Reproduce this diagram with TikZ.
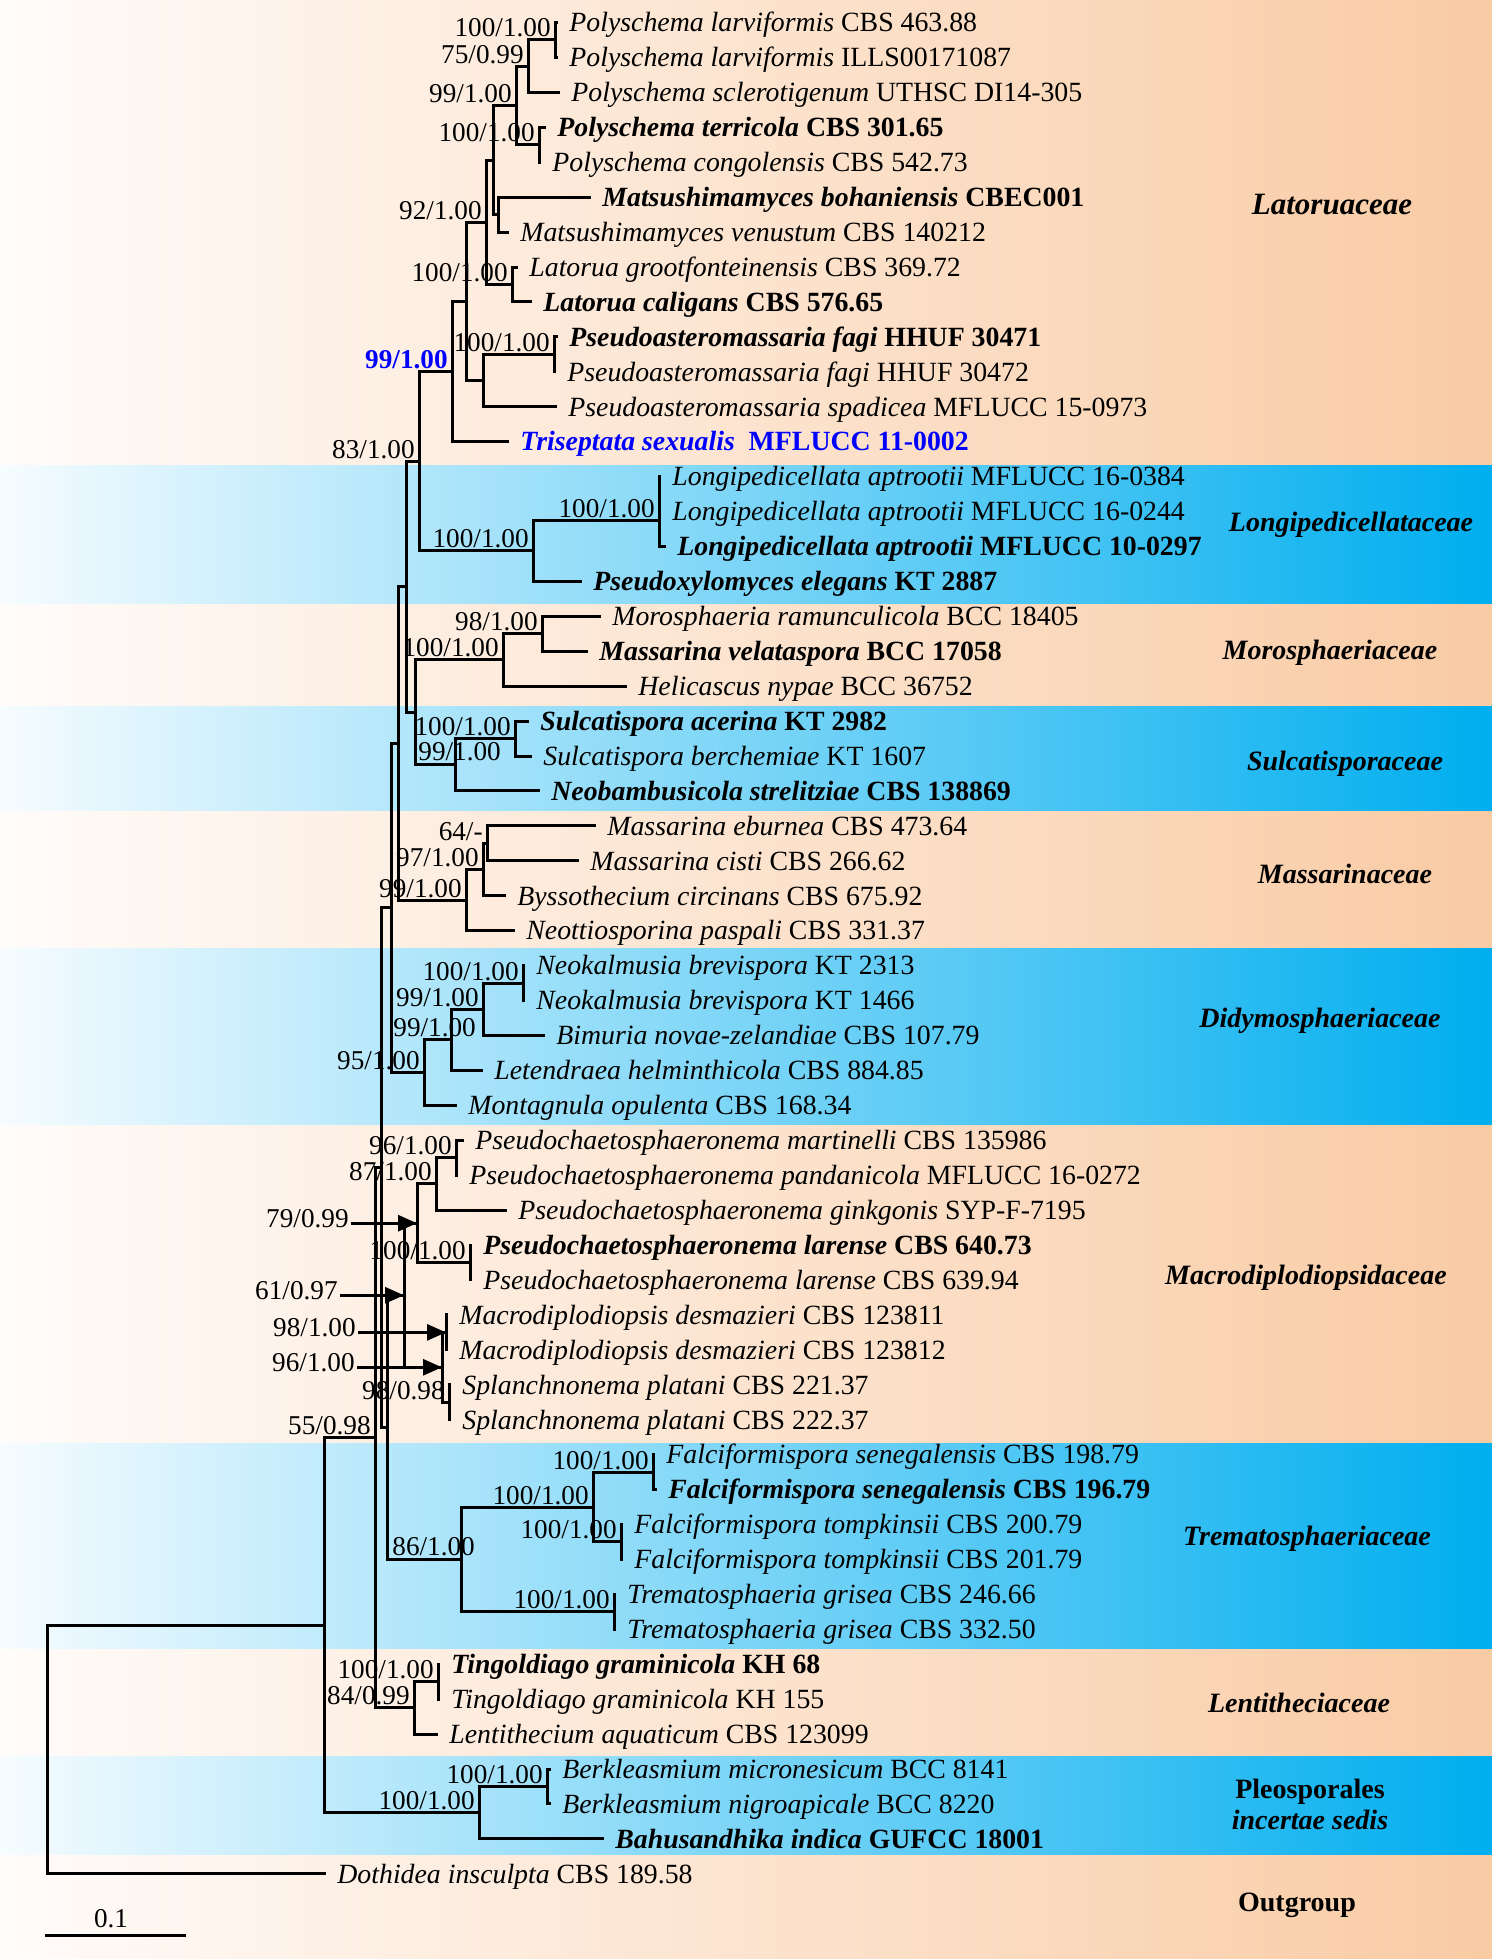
\documentclass[tikz,border=0pt]{standalone}
\usepackage{fontspec}
\setmainfont{Liberation Serif}
\usepackage{tikz}
\usetikzlibrary{arrows.meta}
\definecolor{bandPeach}{HTML}{F9CBA4}
\definecolor{bandPeachPale}{HTML}{FFFCFA}
\definecolor{bandCyan}{HTML}{00AEEF}
\definecolor{bandCyanPale}{HTML}{F6FCFF}
\definecolor{treeInk}{HTML}{000000}
\definecolor{typeBlue}{HTML}{0000FF}
\tikzset{
  taxon/.style={
    anchor=west,
    inner xsep=6.5pt,
    inner ysep=0pt,
    text height=9.3pt,
    text depth=0pt,
    font=\fontsize{13.9}{16}\selectfont
  },
  taxonBold/.style={
    taxon,
    font=\fontsize{13.9}{16}\selectfont\bfseries
  },
  support/.style={
    anchor=base east,
    inner sep=0pt,
    xshift=-2pt,
    yshift=1.5pt,
    font=\fontsize{13.6}{16}\selectfont
  },
  supportLeft/.style={
    anchor=base west,
    inner sep=0pt,
    font=\fontsize{13.6}{16}\selectfont
  },
  pointerLabel/.style={
    anchor=base east,
    inner xsep=1pt,
    inner ysep=0pt,
    yshift=-2pt,
    font=\fontsize{13.6}{16}\selectfont
  },
  scaleLabel/.style={
    anchor=base,
    inner sep=0pt,
    font=\fontsize{13.6}{16}\selectfont
  },
  branch/.style={
    line width=1.5pt,
    line cap=rect,
    draw=treeInk
  },
  pointer/.style={
    -{Triangle[length=9.5pt,width=8pt]},
    line width=1.5pt,
    draw=treeInk
  },
  family/.style={
    anchor=base,
    font=\fontsize{14}{16}\selectfont\bfseries\itshape
  },
  peachBand/.style={left color=bandPeachPale, right color=bandPeach},
  cyanBand/.style={left color=bandCyanPale, right color=bandCyan}
}

\begin{document}
\begin{tikzpicture}[x=0.5pt, y=-17.465pt]
  \useasboundingbox (0,0.356) rectangle (1492,56.44);
  % family bands
  \shade[peachBand] (0,0.356) rectangle (1492,13.67);
  \shade[cyanBand] (0,13.67) rectangle (1492,17.65);
  \shade[peachBand] (0,17.65) rectangle (1492,20.57);
  \shade[cyanBand] (0,20.57) rectangle (1492,23.60);
  \shade[peachBand] (0,23.60) rectangle (1492,27.50);
  \shade[cyanBand] (0,27.50) rectangle (1492,32.59);
  \shade[peachBand] (0,32.59) rectangle (1492,41.67);
  \shade[cyanBand] (0,41.67) rectangle (1492,47.59);
  \shade[peachBand] (0,47.59) rectangle (1492,50.63);
  \shade[cyanBand] (0,50.63) rectangle (1492,53.49);
  \shade[peachBand] (0,53.49) rectangle (1492,56.44);

  % taxa
  \node[taxon] (polLarA) at (556,1) {\textit{Polyschema larviformis} CBS 463.88};
  \node[taxon] (polLarB) at (556,2) {\textit{Polyschema larviformis} ILLS00171087};
  \node[taxon] (polScl) at (558,3) {\textit{Polyschema sclerotigenum} UTHSC DI14-305};
  \node[taxonBold] (polTer) at (544,4) {\textit{Polyschema terricola} CBS 301.65};
  \node[taxon] (polCon) at (539,5) {\textit{Polyschema congolensis} CBS 542.73};
  \node[taxonBold] (matBoh) at (589,6) {\textit{Matsushimamyces bohaniensis} CBEC001};
  \node[taxon] (matVen) at (507,7) {\textit{Matsushimamyces venustum} CBS 140212};
  \node[taxon] (latGro) at (516,8) {\textit{Latorua grootfonteinensis} CBS 369.72};
  \node[taxonBold] (latCal) at (530,9) {\textit{Latorua caligans} CBS 576.65};
  \node[taxonBold] (psaFagA) at (556,10) {\textit{Pseudoasteromassaria fagi} HHUF 30471};
  \node[taxon] (psaFagB) at (554,11) {\textit{Pseudoasteromassaria fagi} HHUF 30472};
  \node[taxon] (psaSpa) at (555,12) {\textit{Pseudoasteromassaria spadicea} MFLUCC 15-0973};
  \node[taxonBold, text=typeBlue] (triSex) at (507,13) {\textit{Triseptata sexualis}\ \ MFLUCC 11-0002};
  \node[taxon] (lonAptA) at (659,14) {\textit{Longipedicellata aptrootii} MFLUCC 16-0384};
  \node[taxon] (lonAptB) at (659,15) {\textit{Longipedicellata aptrootii} MFLUCC 16-0244};
  \node[taxonBold] (lonAptC) at (664,16) {\textit{Longipedicellata aptrootii} MFLUCC 10-0297};
  \node[taxonBold] (pxyEle) at (580,17) {\textit{Pseudoxylomyces elegans} KT 2887};
  \node[taxon] (morRam) at (599,18) {\textit{Morosphaeria ramunculicola} BCC 18405};
  \node[taxonBold] (masVel) at (586,19) {\textit{Massarina velataspora} BCC 17058};
  \node[taxon] (helNyp) at (625,20) {\textit{Helicascus nypae} BCC 36752};
  \node[taxonBold] (sulAce) at (527,21) {\textit{Sulcatispora acerina} KT 2982};
  \node[taxon] (sulBer) at (530,22) {\textit{Sulcatispora berchemiae} KT 1607};
  \node[taxonBold] (neoStr) at (538,23) {\textit{Neobambusicola strelitziae} CBS 138869};
  \node[taxon] (masEbu) at (594,24) {\textit{Massarina eburnea} CBS 473.64};
  \node[taxon] (masCis) at (577,25) {\textit{Massarina cisti} CBS 266.62};
  \node[taxon] (bysCir) at (504,26) {\textit{Byssothecium circinans} CBS 675.92};
  \node[taxon] (neoPas) at (513,27) {\textit{Neottiosporina paspali} CBS 331.37};
  \node[taxon] (nkaBreA) at (523,28) {\textit{Neokalmusia brevispora} KT 2313};
  \node[taxon] (nkaBreB) at (523,29) {\textit{Neokalmusia brevispora} KT 1466};
  \node[taxon] (bimNov) at (543,30) {\textit{Bimuria novae-zelandiae} CBS 107.79};
  \node[taxon] (letHel) at (481,31) {\textit{Letendraea helminthicola} CBS 884.85};
  \node[taxon] (monOpu) at (455,32) {\textit{Montagnula opulenta} CBS 168.34};
  \node[taxon] (pchMar) at (462,33) {\textit{Pseudochaetosphaeronema martinelli} CBS 135986};
  \node[taxon] (pchPan) at (456,34) {\textit{Pseudochaetosphaeronema pandanicola} MFLUCC 16-0272};
  \node[taxon] (pchGin) at (505,35) {\textit{Pseudochaetosphaeronema ginkgonis} SYP-F-7195};
  \node[taxonBold] (pchLarA) at (470,36) {\textit{Pseudochaetosphaeronema larense} CBS 640.73};
  \node[taxon] (pchLarB) at (470,37) {\textit{Pseudochaetosphaeronema larense} CBS 639.94};
  \node[taxon] (macDesA) at (446,38) {\textit{Macrodiplodiopsis desmazieri} CBS 123811};
  \node[taxon] (macDesB) at (446,39) {\textit{Macrodiplodiopsis desmazieri} CBS 123812};
  \node[taxon] (splPlaA) at (449,40) {\textit{Splanchnonema platani} CBS 221.37};
  \node[taxon] (splPlaB) at (449,41) {\textit{Splanchnonema platani} CBS 222.37};
  \node[taxon] (falSenA) at (653,42) {\textit{Falciformispora senegalensis} CBS 198.79};
  \node[taxonBold] (falSenB) at (655,43) {\textit{Falciformispora senegalensis} CBS 196.79};
  \node[taxon] (falTomA) at (621,44) {\textit{Falciformispora tompkinsii} CBS 200.79};
  \node[taxon] (falTomB) at (621,45) {\textit{Falciformispora tompkinsii} CBS 201.79};
  \node[taxon] (treGriA) at (614,46) {\textit{Trematosphaeria grisea} CBS 246.66};
  \node[taxon] (treGriB) at (614,47) {\textit{Trematosphaeria grisea} CBS 332.50};
  \node[taxonBold] (tinGraA) at (438,48) {\textit{Tingoldiago graminicola} KH 68};
  \node[taxon] (tinGraB) at (438,49) {\textit{Tingoldiago graminicola} KH 155};
  \node[taxon] (lenAqu) at (436,50) {\textit{Lentithecium aquaticum} CBS 123099};
  \node[taxon] (berMic) at (549,51) {\textit{Berkleasmium micronesicum} BCC 8141};
  \node[taxon] (berNig) at (549,52) {\textit{Berkleasmium nigroapicale} BCC 8220};
  \node[taxonBold] (bahInd) at (602,53) {\textit{Bahusandhika indica} GUFCC 18001};
  \node[taxon] (dotIns) at (324,54) {\textit{Dothidea insculpta} CBS 189.58};

  % clades
  \coordinate (cPolLar) at (555,1.5);
  \coordinate (cPolScl) at (528,2.25);
  \coordinate (cPolTer) at (539,4.5);
  \coordinate (cPoly) at (516,3.375);
  \coordinate (cMats) at (498,6.5);
  \coordinate (cPolMat) at (493,4.9375);
  \coordinate (cLatorua) at (512,8.5);
  \coordinate (cLatA) at (486,6.719);
  \coordinate (cPsaFagi) at (554,10.5);
  \coordinate (cPsa) at (483,11.25);
  \coordinate (cLatB) at (466,8.984);
  \coordinate (cLatFam) at (452,10.992);
  \coordinate (cLonApt1) at (659,14.5);
  \coordinate (cLonApt) at (659,15.25);
  \coordinate (cLonFam) at (533,16.125);
  \coordinate (cLatLon) at (419,13.559);
  \coordinate (cMorA) at (542,18.5);
  \coordinate (cMorFam) at (503,19.25);
  \coordinate (cSulc) at (515,21.5);
  \coordinate (cSulFam) at (455,22.25);
  \coordinate (cMorSul) at (415,20.75);
  \coordinate (cUpper) at (406,17.154);
  \coordinate (cMasEC) at (487,24.5);
  \coordinate (cMasB) at (483,25.25);
  \coordinate (cMasFam) at (466,26.125);
  \coordinate (cUpMas) at (398,21.64);
  \coordinate (cNeok) at (523,28.5);
  \coordinate (cDidA) at (483,29.25);
  \coordinate (cDidB) at (451,30.125);
  \coordinate (cDidFam) at (424,31.0625);
  \coordinate (cUpDid) at (391,26.35);
  \coordinate (cPchA) at (456,33.5);
  \coordinate (cPchB) at (436,34.25);
  \coordinate (cPchLar) at (470,36.5);
  \coordinate (cPch) at (417,35.375);
  \coordinate (cMacDes) at (446,38.5);
  \coordinate (cSplPla) at (449,40.5);
  \coordinate (cMacSpl) at (442,39.5);
  \coordinate (cMacFam) at (404,37.4375);
  \coordinate (cFalSen) at (653,42.5);
  \coordinate (cFalTom) at (621,44.5);
  \coordinate (cFalc) at (593,43.5);
  \coordinate (cTreGri) at (614,46.5);
  \coordinate (cTreFam) at (461,45);
  \coordinate (cMacTre) at (387,41.22);
  \coordinate (cCore) at (381,33.785);
  \coordinate (cLenTin) at (438,48.5);
  \coordinate (cLenFam) at (414,49.25);
  \coordinate (cMain) at (375,41.52);
  \coordinate (cBerk) at (547,51.5);
  \coordinate (cIncSed) at (479,52.25);
  \coordinate (cIngroup) at (324,46.88);
  \coordinate (cRoot) at (47,50.44);

  % Latoruaceae
  \draw[branch] (cPolLar) |- (polLarA.west) (cPolLar) |- (polLarB.west);
  \draw[branch] (cPolScl) |- (cPolLar) (cPolScl) |- (polScl.west);
  \draw[branch] (cPolTer) |- (polTer.west) (cPolTer) |- (polCon.west);
  \draw[branch] (cPoly) |- (cPolScl) (cPoly) |- (cPolTer);
  \draw[branch] (cMats) |- (matBoh.west) (cMats) |- (matVen.west);
  \draw[branch] (cPolMat) |- (cPoly) (cPolMat) |- (cMats);
  \draw[branch] (cLatorua) |- (latGro.west) (cLatorua) |- (latCal.west);
  \draw[branch] (cLatA) |- (cPolMat) (cLatA) |- (cLatorua);
  \draw[branch] (cPsaFagi) |- (psaFagA.west) (cPsaFagi) |- (psaFagB.west);
  \draw[branch] (cPsa) |- (cPsaFagi) (cPsa) |- (psaSpa.west);
  \draw[branch] (cLatB) |- (cLatA) (cLatB) |- (cPsa);
  \draw[branch] (cLatFam) |- (cLatB) (cLatFam) |- (triSex.west);
  % Longipedicellataceae
  \draw[branch] (cLonApt1) |- (lonAptA.west) (cLonApt1) |- (lonAptB.west);
  \draw[branch] (cLonApt) |- (cLonApt1) (cLonApt) |- (lonAptC.west);
  \draw[branch] (cLonFam) |- (cLonApt) (cLonFam) |- (pxyEle.west);
  \draw[branch] (cLatLon) |- (cLatFam) (cLatLon) |- (cLonFam);
  % Morosphaeriaceae and Sulcatisporaceae
  \draw[branch] (cMorA) |- (morRam.west) (cMorA) |- (masVel.west);
  \draw[branch] (cMorFam) |- (cMorA) (cMorFam) |- (helNyp.west);
  \draw[branch] (cSulc) |- (sulAce.west) (cSulc) |- (sulBer.west);
  \draw[branch] (cSulFam) |- (cSulc) (cSulFam) |- (neoStr.west);
  \draw[branch] (cMorSul) |- (cMorFam) (cMorSul) |- (cSulFam);
  \draw[branch] (cUpper) |- (cLatLon) (cUpper) |- (cMorSul);
  % Massarinaceae
  \draw[branch] (cMasEC) |- (masEbu.west) (cMasEC) |- (masCis.west);
  \draw[branch] (cMasB) |- (cMasEC) (cMasB) |- (bysCir.west);
  \draw[branch] (cMasFam) |- (cMasB) (cMasFam) |- (neoPas.west);
  \draw[branch] (cUpMas) |- (cUpper) (cUpMas) |- (cMasFam);
  % Didymosphaeriaceae
  \draw[branch] (cNeok) |- (nkaBreA.west) (cNeok) |- (nkaBreB.west);
  \draw[branch] (cDidA) |- (cNeok) (cDidA) |- (bimNov.west);
  \draw[branch] (cDidB) |- (cDidA) (cDidB) |- (letHel.west);
  \draw[branch] (cDidFam) |- (cDidB) (cDidFam) |- (monOpu.west);
  \draw[branch] (cUpDid) |- (cUpMas) (cUpDid) |- (cDidFam);
  % Macrodiplodiopsidaceae
  \draw[branch] (cPchA) |- (pchMar.west) (cPchA) |- (pchPan.west);
  \draw[branch] (cPchB) |- (cPchA) (cPchB) |- (pchGin.west);
  \draw[branch] (cPchLar) |- (pchLarA.west) (cPchLar) |- (pchLarB.west);
  \draw[branch] (cPch) |- (cPchB) (cPch) |- (cPchLar);
  \draw[branch] (cMacDes) |- (macDesA.west) (cMacDes) |- (macDesB.west);
  \draw[branch] (cSplPla) |- (splPlaA.west) (cSplPla) |- (splPlaB.west);
  \draw[branch] (cMacSpl) |- (cMacDes) (cMacSpl) |- (cSplPla);
  \draw[branch] (cMacFam) |- (cPch) (cMacFam) |- (cMacSpl);
  % Trematosphaeriaceae
  \draw[branch] (cFalSen) |- (falSenA.west) (cFalSen) |- (falSenB.west);
  \draw[branch] (cFalTom) |- (falTomA.west) (cFalTom) |- (falTomB.west);
  \draw[branch] (cFalc) |- (cFalSen) (cFalc) |- (cFalTom);
  \draw[branch] (cTreGri) |- (treGriA.west) (cTreGri) |- (treGriB.west);
  \draw[branch] (cTreFam) |- (cFalc) (cTreFam) |- (cTreGri);
  \draw[branch] (cMacTre) |- (cMacFam) (cMacTre) |- (cTreFam);
  \draw[branch] (cCore) |- (cUpDid) (cCore) |- (cMacTre);
  % Lentitheciaceae
  \draw[branch] (cLenTin) |- (tinGraA.west) (cLenTin) |- (tinGraB.west);
  \draw[branch] (cLenFam) |- (cLenTin) (cLenFam) |- (lenAqu.west);
  \draw[branch] (cMain) |- (cCore) (cMain) |- (cLenFam);
  % incertae sedis and root
  \draw[branch] (cBerk) |- (berMic.west) (cBerk) |- (berNig.west);
  \draw[branch] (cIncSed) |- (cBerk) (cIncSed) |- (bahInd.west);
  \draw[branch] (cIngroup) |- (cMain) (cIngroup) |- (cIncSed);
  \draw[branch] (cRoot) |- (cIngroup) (cRoot) |- (dotIns.west);

  % support values
  \node[support] (sPolLar) at (cPolLar) {100/1.00};
  \node[support] (sPolScl) at (cPolScl) {75/0.99};
  \node[support] (sPoly) at (cPoly) {99/1.00};
  \node[support] (sPolTer) at (cPolTer) {100/1.00};
  \node[support] (sLatA) at (cLatA) {92/1.00};
  \node[support] (sLatorua) at (cLatorua) {100/1.00};
  \node[support] (sPsaFagi) at (cPsaFagi) {100/1.00};
  \node[support, text=typeBlue, font=\fontsize{13.6}{16}\selectfont\bfseries] (sLatFam) at (cLatFam) {99/1.00};
  \node[support] (sLatLon) at (cLatLon) {83/1.00};
  \node[support] (sLonApt) at (cLonApt) {100/1.00};
  \node[support] (sLonFam) at (cLonFam) {100/1.00};
  \node[support] (sMorA) at (cMorA) {98/1.00};
  \node[support] (sMorFam) at (cMorFam) {100/1.00};
  \node[support] (sSulc) at (cSulc) {100/1.00};
  \node[supportLeft] (sSulFam) at (418,22.14) {99/1.00};
  \node[support] (sMasEC) at (cMasEC) {64/-};
  \node[support] (sMasB) at (cMasB) {97/1.00};
  \node[support] (sMasFam) at (cMasFam) {99/1.00};
  \node[support] (sNeok) at (cNeok) {100/1.00};
  \node[support] (sDidA) at (cDidA) {99/1.00};
  \node[supportLeft] (sDidB) at (393,30.04) {99/1.00};
  \node[support] (sDidFam) at (cDidFam) {95/1.00};
  \node[support] (sPchA) at (cPchA) {96/1.00};
  \node[support] (sPchB) at (cPchB) {87/1.00};
  \node[support] (sPchLar) at (cPchLar) {100/1.00};
  \node[support] (sSplPla) at (cSplPla) {98/0.98};
  \node[support] (sFalSen) at (cFalSen) {100/1.00};
  \node[support] (sFalc) at (cFalc) {100/1.00};
  \node[support] (sFalTom) at (cFalTom) {100/1.00};
  \node[support] (sTreGri) at (cTreGri) {100/1.00};
  \node[supportLeft] (sTreFam) at (392,44.9) {86/1.00};
  \node[support] (sMain) at (cMain) {55/0.98};
  \node[support] (sLenTin) at (cLenTin) {100/1.00};
  \node[support] (sLenFam) at (cLenFam) {84/0.99};
  \node[support] (sBerk) at (cBerk) {100/1.00};
  \node[support] (sIncSed) at (cIncSed) {100/1.00};

  % supports pointed at crowded nodes
  \node[pointerLabel] (ptPch) at (351,35.375) {79/0.99};
  \node[pointerLabel] (ptMacFam) at (340,37.4375) {61/0.97};
  \node[pointerLabel] (ptMacDes) at (358,38.5) {98/1.00};
  \node[pointerLabel] (ptMacSpl) at (357,39.5) {96/1.00};
  \draw[pointer] (ptPch.east |- cPch) -- (cPch);
  \draw[pointer] (ptMacFam.east |- cMacFam) -- (cMacFam);
  \draw[pointer] (ptMacDes.east |- cMacDes) -- (cMacDes);
  \draw[pointer] (ptMacSpl.east |- cMacSpl) -- (cMacSpl);

  % family names
  \node[family, font=\fontsize{15.5}{18}\selectfont\bfseries\itshape] (famLat) at (1332,6.51) {Latoruaceae};
  \node[family] (famLon) at (1351,15.58) {Longipedicellataceae};
  \node[family] (famMor) at (1330,19.25) {Morosphaeriaceae};
  \node[family] (famSul) at (1345,22.40) {Sulcatisporaceae};
  \node[family] (famMas) at (1345,25.66) {Massarinaceae};
  \node[family] (famDid) at (1320,29.76) {Didymosphaeriaceae};
  \node[family] (famMac) at (1306,37.12) {Macrodiplodiopsidaceae};
  \node[family] (famTre) at (1307,44.59) {Trematosphaeriaceae};
  \node[family] (famLen) at (1299,49.37) {Lentitheciaceae};
  \node[family] (famIncA) at (1310,51.83) {\upshape Pleosporales};
  \node[family] (famIncB) at (1310,52.72) {incertae sedis};
  \node[family] (famOut) at (1297,55.09) {\upshape Outgroup};

  % scale bar
  \coordinate (barStart) at (46,55.77);
  \coordinate (barEnd) at (184,55.77);
  \draw[branch] (barStart) -- (barEnd);
  \node[scaleLabel] (barText) at (111,55.55) {0.1};
\end{tikzpicture}
\end{document}
